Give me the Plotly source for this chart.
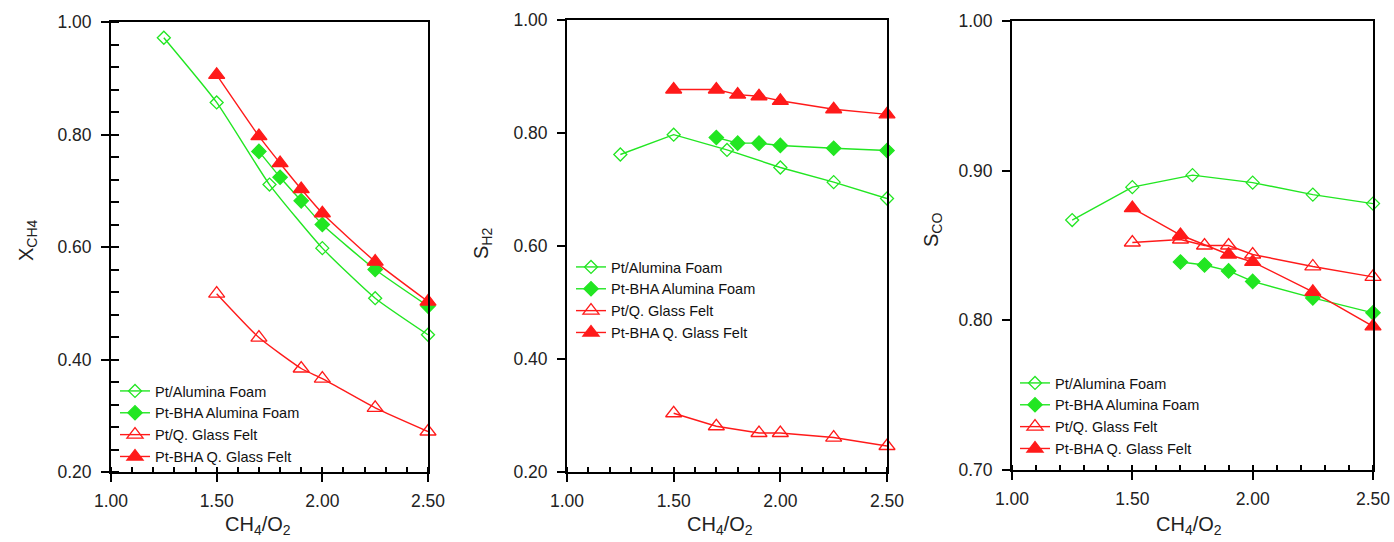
import plotly.graph_objects as go

# ---------------- data ----------------
series_names = ["Pt/Alumina Foam", "Pt-BHA Alumina Foam", "Pt/Q. Glass Felt", "Pt-BHA Q. Glass Felt"]

x_pt_al = [1.25, 1.50, 1.75, 2.00, 2.25, 2.50]
x_bha_al = [1.70, 1.80, 1.90, 2.00, 2.25, 2.50]
x_pt_gf_12 = [1.50, 1.70, 1.90, 2.00, 2.25, 2.50]
x_bha_gf_12 = [1.50, 1.70, 1.80, 1.90, 2.00, 2.25, 2.50]
x_pt_gf_3 = [1.50, 1.70, 1.80, 1.90, 2.00, 2.25, 2.50]
x_bha_gf_3 = [1.50, 1.70, 1.90, 2.00, 2.25, 2.50]

# Panel 1: methane conversion X_CH4
xch4_pt_al = [0.972, 0.857, 0.711, 0.598, 0.509, 0.444]
xch4_bha_al = [0.770, 0.724, 0.682, 0.640, 0.560, 0.495]
xch4_pt_gf = [0.517, 0.439, 0.384, 0.366, 0.314, 0.272]
xch4_bha_gf = [0.906, 0.797, 0.749, 0.703, 0.660, 0.574, 0.503]

# Panel 2: H2 selectivity S_H2
sh2_pt_al = [0.762, 0.797, 0.770, 0.739, 0.713, 0.684]
sh2_bha_al = [0.792, 0.782, 0.782, 0.778, 0.773, 0.769]
sh2_pt_gf = [0.304, 0.281, 0.269, 0.269, 0.261, 0.246]
sh2_bha_gf = [0.877, 0.877, 0.868, 0.865, 0.857, 0.842, 0.833]

# Panel 3: CO selectivity S_CO
sco_pt_al = [0.867, 0.889, 0.897, 0.892, 0.884, 0.878]
sco_bha_al = [0.839, 0.837, 0.833, 0.826, 0.815, 0.805]
sco_pt_gf = [0.852, 0.854, 0.850, 0.850, 0.844, 0.836, 0.829]
sco_bha_gf = [0.875, 0.857, 0.844, 0.839, 0.819, 0.796]

x_ticks = [1.00, 1.50, 2.00, 2.50]
y_ticks_12 = [0.20, 0.40, 0.60, 0.80, 1.00]
y_ticks_3 = [0.70, 0.80, 0.90, 1.00]

# ---------------- style ----------------
W, H = 1394, 542
FONT = "Liberation Sans, Arial, sans-serif"
GREEN = "#22e622"
RED = "#ff1a1a"

styles = [
    dict(color=GREEN, symbol="diamond-open", size=10),
    dict(color=GREEN, symbol="diamond", size=11),
    dict(color=RED, symbol="triangle-up-open", size=14),
    dict(color=RED, symbol="triangle-up", size=14),
]

# pixel boxes of plot areas (left, right, top, bottom)
boxes = [(111, 428, 22, 472), (567, 887, 20, 472), (1012, 1373, 21, 470)]

fig = go.Figure()

panels = [
    [(x_pt_al, xch4_pt_al), (x_bha_al, xch4_bha_al), (x_pt_gf_12, xch4_pt_gf), (x_bha_gf_12, xch4_bha_gf)],
    [(x_pt_al, sh2_pt_al), (x_bha_al, sh2_bha_al), (x_pt_gf_12, sh2_pt_gf), (x_bha_gf_12, sh2_bha_gf)],
    [(x_pt_al, sco_pt_al), (x_bha_al, sco_bha_al), (x_pt_gf_3, sco_pt_gf), (x_bha_gf_3, sco_bha_gf)],
]
legend_ids = ["legend", "legend2", "legend3"]

for p, data in enumerate(panels):
    xa = "x" if p == 0 else f"x{p+1}"
    ya = "y" if p == 0 else f"y{p+1}"
    for s, (xs, ys) in enumerate(data):
        st = styles[s]
        fig.add_trace(go.Scatter(
            x=xs, y=ys, xaxis=xa, yaxis=ya,
            name=series_names[s], legend=legend_ids[p],
            mode="lines+markers", cliponaxis=False,
            line=dict(color=st["color"], width=1.4,
                      shape="spline" if p == 0 else "linear", smoothing=0.5),
            marker=dict(symbol=st["symbol"], size=st["size"], color=st["color"],
                        line=dict(color=st["color"], width=1.3)),
        ))

def px_dom_x(a, b):
    return [a / W, b / W]

def px_dom_y(top, bottom):
    return [(H - bottom) / H, (H - top) / H]

layout = dict(
    width=W, height=H, margin=dict(l=0, r=0, t=0, b=0, autoexpand=False),
    paper_bgcolor="white", plot_bgcolor="white",
    font=dict(family=FONT, color="#222", size=17),
    showlegend=True,
)

yranges = [[0.2, 1.0], [0.2, 1.0], [0.7, 1.0]]
yticks = [y_ticks_12, y_ticks_12, y_ticks_3]
yminor = [dict(ticks="inside", dtick=0.04, ticklen=8, tickwidth=1.5, tickcolor="black"),
          dict(ticks=""), dict(ticks="")]

for p, (l, r, t, b) in enumerate(boxes):
    xkey = "xaxis" if p == 0 else f"xaxis{p+1}"
    ykey = "yaxis" if p == 0 else f"yaxis{p+1}"
    anchor_y = "y" if p == 0 else f"y{p+1}"
    anchor_x = "x" if p == 0 else f"x{p+1}"
    layout[xkey] = dict(
        domain=px_dom_x(l, r), anchor=anchor_y, range=[1.0, 2.5], automargin=False,
        tickvals=x_ticks, tickformat=".2f", ticks="outside", ticklen=8, tickwidth=1.5,
        tickcolor="black", showline=True, linecolor="black", linewidth=2, mirror=True,
        showgrid=False, zeroline=False, ticklabelstandoff=4,
        tickfont=dict(family=FONT, size=17.5, color="#222"),
        minor=dict(ticks="inside", dtick=0.1, ticklen=5, tickwidth=1.5, tickcolor="black", showgrid=False),
    )
    layout[ykey] = dict(
        domain=px_dom_y(t, b), anchor=anchor_x, range=yranges[p], automargin=False,
        tickvals=yticks[p], tickformat=".2f", ticks="outside", ticklen=8, tickwidth=1.5,
        tickcolor="black", showline=True, linecolor="black", linewidth=2, mirror=True,
        showgrid=False, zeroline=False, ticklabelstandoff=6,
        tickfont=dict(family=FONT, size=17.5, color="#222"),
        minor=dict(yminor[p], showgrid=False),
    )

legend_pos = [(115, 375), (571, 251), (1015, 367)]
for p, (lx, ty) in enumerate(legend_pos):
    layout[legend_ids[p]] = dict(
        x=lx / W, y=(H - ty) / H, xanchor="left", yanchor="top",
        bgcolor="rgba(0,0,0,0)", borderwidth=0,
        font=dict(family=FONT, size=14.5, color="#111"),
        itemsizing="trace",
    )

fig.update_layout(**layout)

# axis titles
ytitles = ["X<sub>CH4</sub>", "S<sub>H2</sub>", "S<sub>CO</sub>"]
ytitle_pos = [(27, 240), (482, 244), (932, 230)]
xtitle_pos = [(258, 525), (720, 525), (1189, 525)]
for p in range(3):
    fig.add_annotation(text=ytitles[p], xref="paper", yref="paper",
                       x=ytitle_pos[p][0] / W, y=(H - ytitle_pos[p][1]) / H,
                       textangle=-90, showarrow=False, xanchor="center", yanchor="middle",
                       font=dict(family=FONT, size=20, color="#222"))
    fig.add_annotation(text="CH<sub>4</sub>/O<sub>2</sub>", xref="paper", yref="paper",
                       x=xtitle_pos[p][0] / W, y=(H - xtitle_pos[p][1]) / H,
                       showarrow=False, xanchor="center", yanchor="middle",
                       font=dict(family=FONT, size=20, color="#222"))

fig.write_html(
    "out.html",
    config={"displayModeBar": False},
    post_script="document.body.style.margin='0';document.body.style.padding='0';"
                "document.documentElement.style.overflow='hidden';",
)
